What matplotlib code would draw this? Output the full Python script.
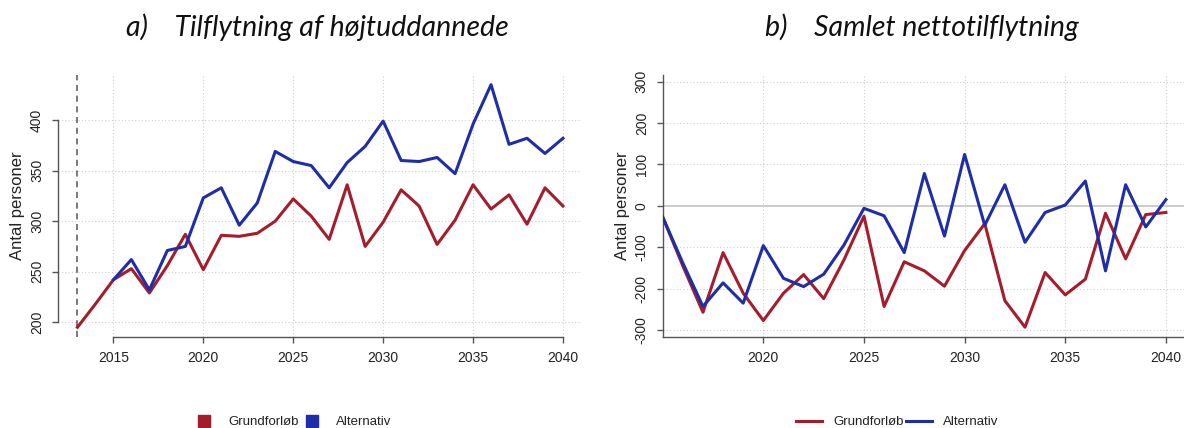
import matplotlib
matplotlib.use("Agg")
import matplotlib.pyplot as plt
from matplotlib.lines import Line2D
import numpy as np

# ---------------- data ----------------
years_a_base = [2013, 2014, 2015, 2016, 2017, 2018, 2019, 2020, 2021, 2022, 2023, 2024,
                2025, 2026, 2027, 2028, 2029, 2030, 2031, 2032, 2033, 2034, 2035, 2036,
                2037, 2038, 2039, 2040]
grund_a = [195, 218, 242, 253, 229, 256, 287, 252, 286, 285, 288, 300,
           322, 305, 282, 336, 275, 299, 331, 315, 277, 301, 336, 312,
           326, 297, 333, 315]
years_a_alt = [2015, 2016, 2017, 2018, 2019, 2020, 2021, 2022, 2023, 2024,
               2025, 2026, 2027, 2028, 2029, 2030, 2031, 2032, 2033, 2034, 2035, 2036,
               2037, 2038, 2039, 2040]
alt_a = [242, 262, 232, 271, 275, 323, 333, 296, 318, 369,
         359, 355, 333, 358, 374, 399, 360, 359, 363, 347, 396, 435,
         376, 382, 367, 382]

years_b = list(range(2015, 2041))
grund_b = [-27, -145, -257, -113, -211, -277, -211, -166, -224, -131,
           -25, -243, -135, -157, -194, -108, -43, -229, -293, -161,
           -215, -177, -18, -128, -21, -16]
alt_b = [-27, -138, -243, -186, -235, -96, -175, -195, -165, -95,
         -6, -24, -113, 78, -73, 124, -47, 51, -88, -16,
         2, 60, -157, 51, -51, 15]

xticks_a = [2015, 2020, 2025, 2030, 2035, 2040]
yticks_a = [200, 250, 300, 350, 400]
xticks_b = [2020, 2025, 2030, 2035, 2040]
yticks_b = [-300, -200, -100, 0, 100, 200, 300]

title_a = "a)    Tilflytning af højtuddannede"
title_b = "b)    Samlet nettotilflytning"
ylabel = "Antal personer"
labels = ["Grundforløb", "Alternativ"]

# ---------------- style ----------------
RED = "#A51D2D"
BLUE = "#1F2DA8"
GRID = "#cfcfcf"
AXC = "#555555"
TXT = "#222222"
W, H = 1184, 428

plt.rcParams['font.family'] = ['Liberation Sans', 'DejaVu Sans']

fig = plt.figure(figsize=(W / 100, H / 100), dpi=100)


def px_axes(x0, x1, ytop, ybot):
    return fig.add_axes([x0 / W, 1 - ybot / H, (x1 - x0) / W, (ybot - ytop) / H])


def style(ax):
    for s in ['top', 'right']:
        ax.spines[s].set_visible(False)
    for s in ['left', 'bottom']:
        ax.spines[s].set_color(AXC)
        ax.spines[s].set_linewidth(1.0)
    ax.tick_params(axis='both', colors=AXC, labelcolor=TXT, length=4.5, width=1.0,
                   labelsize=10, pad=5.5)
    ax.set_facecolor('none')


# ---------- panel a ----------
axa = px_axes(58, 582.4, 75, 337)
axa.set_xlim(2011.92, 2041.08)
axa.set_ylim(185.4, 444.6)
for x in xticks_a:
    axa.axvline(x, color=GRID, lw=0.8, ls=(0, (1, 2)), zorder=0)
for y in yticks_a:
    axa.axhline(y, color=GRID, lw=0.8, ls=(0, (1, 2)), zorder=0)
axa.axvline(2013, color="#555555", lw=1.1, ls=(0, (4, 3)), zorder=1)
axa.plot(years_a_base, grund_a, color=RED, lw=2.2, zorder=3)
axa.plot(years_a_alt, alt_a, color=BLUE, lw=2.2, zorder=4)
axa.set_xticks(xticks_a)
axa.set_yticks(yticks_a)
style(axa)
axa.set_yticklabels([str(v) for v in yticks_a], rotation=90, va='center')
axa.spines['left'].set_bounds(200, 400)
axa.spines['bottom'].set_bounds(2015, 2040)
axa.set_ylabel(ylabel, fontsize=12, color=TXT)
axa.yaxis.set_label_coords((17.5 - 58) / 524.4, 0.5)
axa.yaxis.label.set_va('center')

# ---------- panel b ----------
axb = px_axes(662.7, 1184, 75, 336.7)
axb.set_xlim(2015, 2040.9)
axb.set_ylim(-316, 316)
for x in xticks_b:
    axb.axvline(x, color=GRID, lw=0.8, ls=(0, (1, 2)), zorder=0)
for y in yticks_b:
    if y != 0:
        axb.axhline(y, color=GRID, lw=0.8, ls=(0, (1, 2)), zorder=0)
axb.axhline(0, color="#c4c4c4", lw=1.2, zorder=1)
axb.plot(years_b, grund_b, color=RED, lw=2.2, zorder=3)
axb.plot(years_b, alt_b, color=BLUE, lw=2.2, zorder=4)
axb.set_xticks(xticks_b)
axb.set_yticks(yticks_b)
style(axb)
axb.set_yticklabels([str(v) for v in yticks_b], rotation=90, va='center')
axb.set_ylabel(ylabel, fontsize=12, color=TXT)
axb.yaxis.set_label_coords((622.5 - 662.7) / 521.3, 0.5)
axb.yaxis.label.set_va('center')

# ---------- titles ----------
tfont = dict(family=['Lato', 'DejaVu Sans'], style='italic', fontsize=20.5, color='#111111',
             ha='center', va='center')
fig.text(317.5 / W, 1 - 27 / H, title_a, **tfont)
fig.text(922 / W, 1 - 27 / H, title_b, **tfont)

# ---------- legends ----------
h_sq = [Line2D([], [], ls='none', marker='s', markersize=9, color=RED),
        Line2D([], [], ls='none', marker='s', markersize=9, color=BLUE)]
fig.legend(h_sq, labels, loc='center left', bbox_to_anchor=(197 / W, 1 - 422 / H),
           ncol=2, frameon=False, fontsize=9.5, handlelength=1.0, handletextpad=1.35,
           columnspacing=0.53, borderpad=0, borderaxespad=0, labelcolor=TXT)
h_ln = [Line2D([], [], color=RED, lw=2.2), Line2D([], [], color=BLUE, lw=2.2)]
fig.legend(h_ln, labels, loc='center left', bbox_to_anchor=(796 / W, 1 - 422 / H),
           ncol=2, frameon=False, fontsize=9.5, handlelength=1.97, handletextpad=0.83,
           columnspacing=0.23, borderpad=0, borderaxespad=0, labelcolor=TXT)

fig.savefig("out.png", dpi=100)
